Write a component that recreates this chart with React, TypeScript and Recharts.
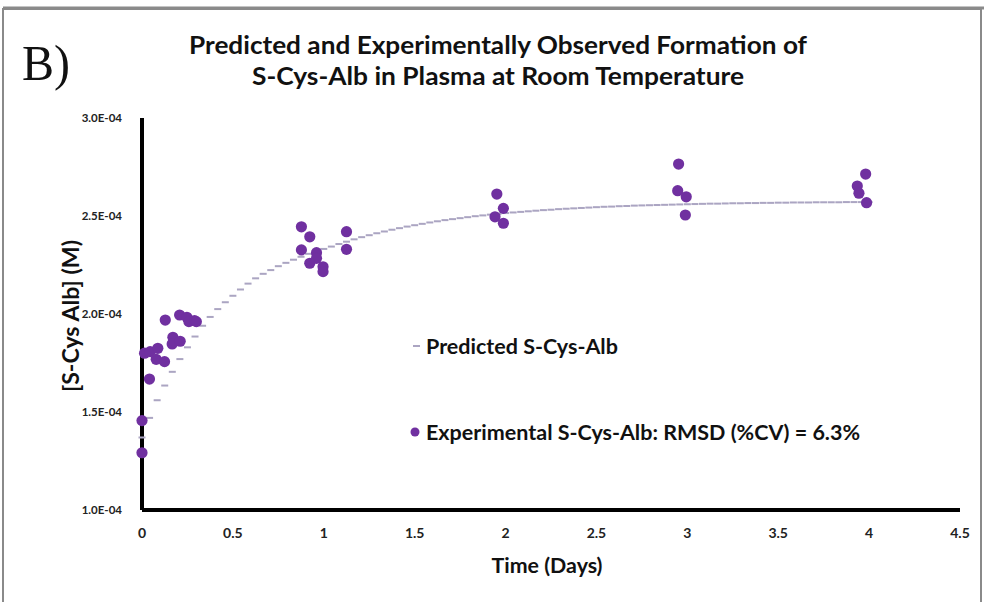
import React from 'react';
import { ScatterChart, Scatter, XAxis, YAxis, Legend } from 'recharts';

// Concentrations are stored in units of 1e-4 M.
const PREDICTED_STEP_DAYS = 1 / 24; // model output every hour

const predictedE4 = [
  1.370, 1.470, 1.560, 1.635, 1.705, 1.770, 1.830, 1.885, 1.940, 1.985,
  2.025, 2.060, 2.093, 2.125, 2.155, 2.182, 2.205, 2.224, 2.244, 2.261,
  2.277, 2.292, 2.307, 2.320, 2.332, 2.344, 2.357, 2.369, 2.381, 2.392,
  2.402, 2.412, 2.421, 2.430, 2.438, 2.446, 2.453, 2.460, 2.467, 2.473,
  2.479, 2.484, 2.489, 2.494, 2.499, 2.503, 2.507, 2.511, 2.515, 2.518,
  2.521, 2.524, 2.527, 2.530, 2.532, 2.535, 2.537, 2.539, 2.541, 2.543,
  2.545, 2.547, 2.548, 2.550, 2.551, 2.553, 2.554, 2.555, 2.556, 2.557,
  2.558, 2.559, 2.560, 2.561, 2.562, 2.563, 2.563, 2.564, 2.565, 2.565,
  2.566, 2.566, 2.567, 2.567, 2.568, 2.568, 2.569, 2.569, 2.569, 2.570,
  2.570, 2.570, 2.570, 2.571, 2.571, 2.571, 2.571,
];

const experimentalDays = [
  0, 0, 0.041, 0.014, 0.045, 0.087, 0.078, 0.124,
  0.170, 0.166, 0.210, 0.128, 0.207, 0.247, 0.258, 0.289, 0.299,
  0.877, 0.923, 0.877, 0.960, 0.960, 0.923, 0.996, 0.996, 1.125, 1.125,
  1.952, 1.988, 1.942, 1.988,
  2.952, 2.947, 2.994, 2.989,
  3.981, 3.935, 3.944, 3.986,
];
const experimentalE4 = [
  1.456, 1.292, 1.668, 1.800, 1.808, 1.825, 1.769, 1.757,
  1.881, 1.847, 1.861, 1.969, 1.995, 1.983, 1.961, 1.966, 1.961,
  2.445, 2.394, 2.327, 2.313, 2.284, 2.259, 2.241, 2.216, 2.420, 2.330,
  2.612, 2.539, 2.496, 2.463,
  2.765, 2.629, 2.598, 2.505,
  2.714, 2.653, 2.616, 2.568,
];

const xTicks = [0, 0.5, 1, 1.5, 2, 2.5, 3, 3.5, 4, 4.5];
const yTicks = [1, 1.5, 2, 2.5, 3];
const yTickLabels = ['1.0E-04', '1.5E-04', '2.0E-04', '2.5E-04', '3.0E-04'];

const titleLines = [
  'Predicted and Experimentally Observed Formation of',
  'S-Cys-Alb in Plasma at Room Temperature',
];
const predictedName = 'Predicted S-Cys-Alb';
const experimentalName = 'Experimental S-Cys-Alb: RMSD (%CV) = 6.3%';

const predictedData = predictedE4.map((v, i) => ({ t: i * PREDICTED_STEP_DAYS, v }));
const experimentalData = experimentalDays.map((t, i) => ({ t, v: experimentalE4[i] }));

const FONT = 'Lato, "Open Sans", sans-serif';
const PURPLE = '#7030A0';
const DASH = '#aba5c2';

const DashMarker = (props: any) => {
  const { cx, cy } = props;
  if (cx == null || cy == null) return null;
  return <rect x={cx - 3.5} y={cy - 1} width={7} height={2} fill={DASH} />;
};

const DotMarker = (props: any) => {
  const { cx, cy } = props;
  if (cx == null || cy == null) return null;
  return <circle cx={cx} cy={cy} r={5.6} fill={PURPLE} />;
};

const LegendBox = () => (
  <div style={{ fontFamily: FONT, fontWeight: 700, fontSize: 21.5, color: '#111', whiteSpace: 'nowrap' }}>
    <div style={{ display: 'flex', alignItems: 'center', height: 26 }}>
      <svg width={18} height={10}>
        <rect x={5} y={4} width={7} height={2} fill={DASH} />
      </svg>
      <span>{predictedName}</span>
    </div>
    <div style={{ display: 'flex', alignItems: 'center', height: 26, marginTop: 60 }}>
      <svg width={18} height={12}>
        <circle cx={7} cy={6} r={4.5} fill={PURPLE} />
      </svg>
      <span>{experimentalName}</span>
    </div>
  </div>
);

export default function App() {
  return (
    <div style={{ position: 'absolute', left: 0, top: 0, width: 984, height: 602, background: '#fff' }}>
      <ScatterChart
        width={984}
        height={602}
        margin={{ top: 118, right: 24, bottom: 0, left: 82 }}
      >
        <XAxis
          type="number"
          dataKey="t"
          domain={[0, 4.5]}
          ticks={xTicks}
          height={92}
          axisLine={{ stroke: '#000', strokeWidth: 4 }}
          tickLine={false}
          tickSize={0}
          tickMargin={18}
          tick={{ fontFamily: FONT, fontWeight: 700, fontSize: 14, fill: '#222' }}
        />
        <YAxis
          type="number"
          dataKey="v"
          domain={[1, 3]}
          ticks={yTicks}
          width={60}
          axisLine={{ stroke: '#000', strokeWidth: 4 }}
          tickLine={false}
          tickSize={0}
          tickMargin={20}
          tickFormatter={(v: number) => yTickLabels[yTicks.indexOf(v)] ?? ''}
          tick={{ fontFamily: FONT, fontWeight: 700, fontSize: 11.5, fill: '#222' }}
        />
        <Legend
          layout="horizontal"
          verticalAlign="middle"
          align="center"
          wrapperStyle={{ position: 'absolute', left: 408, top: 333, width: 520 }}
          content={() => <LegendBox />}
        />
        <Scatter
          name={predictedName}
          data={predictedData}
          shape={DashMarker}
          fill={DASH}
          isAnimationActive={false}
        />
        <Scatter
          name={experimentalName}
          data={experimentalData}
          shape={DotMarker}
          fill={PURPLE}
          isAnimationActive={false}
        />
      </ScatterChart>

      <svg
        width={984}
        height={602}
        style={{ position: 'absolute', left: 0, top: 0, pointerEvents: 'none' }}
      >
        <rect x={3} y={9} width={978} height={600} fill="none" stroke="#8a8a8a" strokeWidth={2} />
        <line x1={3} y1={8} x2={984} y2={8} stroke="#8a8a8a" strokeWidth={3} />
        <text
          x={22}
          y={80}
          fontFamily='"Liberation Serif", "Times New Roman", serif'
          fontSize={50}
          textLength={48}
          lengthAdjust="spacingAndGlyphs"
          fill="#111"
        >
          B)
        </text>
        <text
          x={498}
          y={54}
          textAnchor="middle"
          fontFamily={FONT}
          fontWeight={700}
          fontSize={24}
          textLength={618}
          lengthAdjust="spacingAndGlyphs"
          fill="#111"
        >
          {titleLines[0]}
        </text>
        <text
          x={498}
          y={85}
          textAnchor="middle"
          fontFamily={FONT}
          fontWeight={700}
          fontSize={24}
          textLength={492}
          lengthAdjust="spacingAndGlyphs"
          fill="#111"
        >
          {titleLines[1]}
        </text>
        <text
          transform="translate(79 316) rotate(-90)"
          textAnchor="middle"
          fontFamily={FONT}
          fontWeight={700}
          fontSize={23}
          textLength={152}
          lengthAdjust="spacingAndGlyphs"
          fill="#111"
        >
          [S-Cys Alb] (M)
        </text>
        <text
          x={547}
          y={573}
          textAnchor="middle"
          fontFamily={FONT}
          fontWeight={700}
          fontSize={21}
          textLength={111}
          lengthAdjust="spacingAndGlyphs"
          fill="#111"
        >
          Time (Days)
        </text>
      </svg>
    </div>
  );
}
